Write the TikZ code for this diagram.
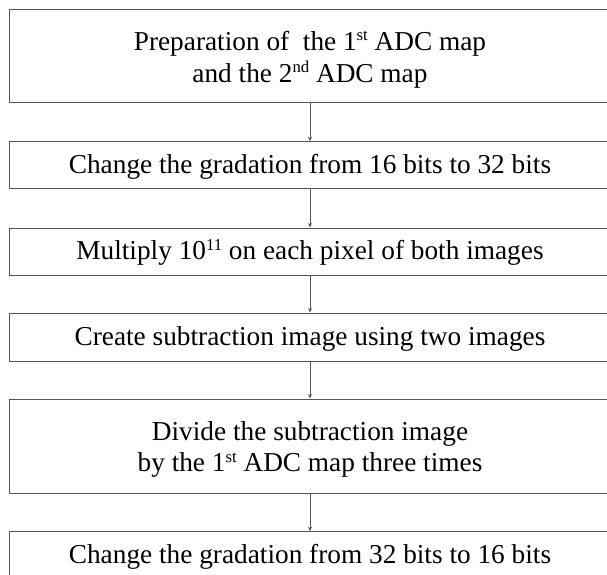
\documentclass[tikz,border=0pt]{standalone}
\usepackage{fontspec}
\setmainfont{Liberation Serif}
\usetikzlibrary{arrows.meta}
\definecolor{edge}{gray}{0.33}
% small raised ordinal / exponent
\newcommand\sups[1]{\raisebox{0.36em}{\fontsize{16.7}{16.7}\selectfont #1}}
% extra head room on the first line of two-line steps
\newcommand\headroom{\rule{0pt}{26pt}}
\begin{document}
\begin{tikzpicture}[x=1pt,y=1pt,
  stepbox/.style={draw=edge, line width=1pt, minimum width=601pt,
    inner sep=0pt, align=center, font=\fontsize{27.3}{31.8}\selectfont},
  oneline/.style={stepbox, text height=18.6pt, text depth=1.7pt},
  flow/.style={draw=edge, line width=0.9pt, -{Stealth[length=4.5pt,width=4pt]}}]
\useasboundingbox (0,0) rectangle (607,-574);
\clip (0,0) rectangle (607,-574);

% processing steps, top to bottom
\node[stepbox, minimum height=93pt] (prep) at (310,-56.1)
  {\headroom Preparation of\ \ the 1\sups{st} ADC map\\and the 2\sups{nd} ADC map};
\node[oneline, minimum height=46.3pt] (up) at (310,-164.85)
  {Change the gradation from 16 bits to 32 bits};
\node[oneline, minimum height=47pt] (mult) at (310,-251.5)
  {Multiply 10\sups{11} on each pixel of both images};
\node[oneline, minimum height=48pt] (sub) at (310,-337)
  {Create subtraction image using two images};
\node[stepbox, minimum height=94pt] (div) at (310,-446)
  {\headroom Divide the subtraction image\\by the 1\sups{st} ADC map three times};
\node[oneline, minimum height=47pt] (down) at (310,-555.2)
  {Change the gradation from 32 bits to 16 bits};

% connectors
\draw[flow] (prep) -- (up);
\draw[flow] (up) -- (mult);
\draw[flow] (mult) -- (sub);
\draw[flow] (sub) -- (div);
\draw[flow] (div) -- (down);
\end{tikzpicture}
\end{document}
